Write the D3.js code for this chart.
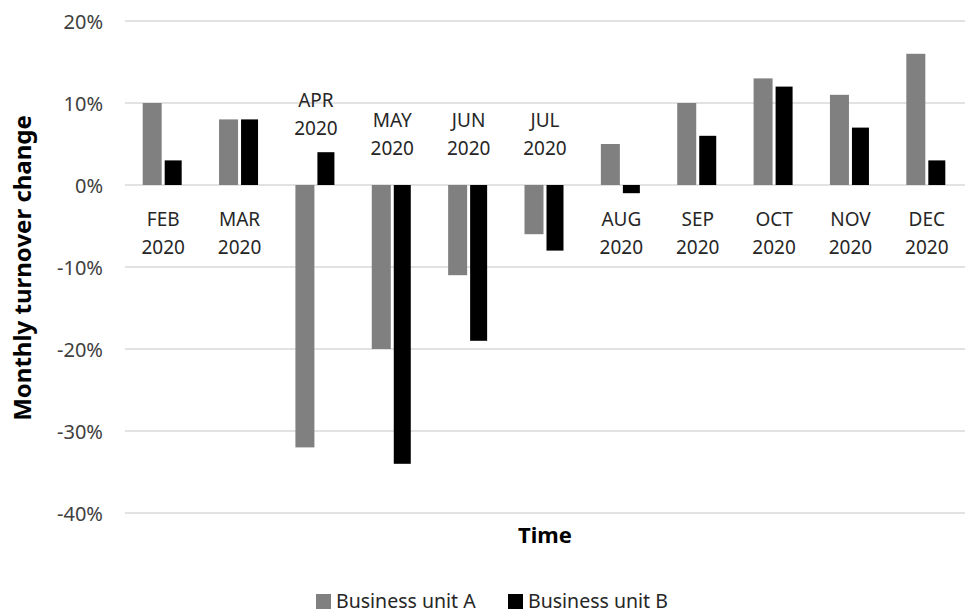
<html>
<head>
<meta charset="utf-8">
<style>
  body { margin: 0; background: #fff; }
  text { font-family: "Noto Sans", "Open Sans", sans-serif; }
</style>
</head>
<body>
<script src="https://d3js.org/d3.v7.min.js"></script>
<div id="chart"></div>
<script>
// data (percent)
var months = ["FEB", "MAR", "APR", "MAY", "JUN", "JUL", "AUG", "SEP", "OCT", "NOV", "DEC"];
var year = "2020";
var unitA = [10, 8, -32, -20, -11, -6, 5, 10, 13, 11, 16];
var unitB = [3, 8, 4, -34, -19, -8, -1, 6, 12, 7, 3];
var yTicks = [20, 10, 0, -10, -20, -30, -40];
var seriesNames = ["Business unit A", "Business unit B"];

var W = 967, H = 613;
var plotLeft = 125, plotRight = 965, plotTop = 21, plotBottom = 513;

var svg = d3.select("#chart").append("svg")
  .attr("width", W).attr("height", H);

var x = d3.scaleBand().domain(months).range([plotLeft, plotRight]);
var y = d3.scaleLinear().domain([-40, 20]).range([plotBottom, plotTop]);

var colors = ["#808080", "#000000"];

// gridlines
svg.append("g").selectAll("line")
  .data(yTicks).enter().append("line")
  .attr("x1", plotLeft).attr("x2", plotRight)
  .attr("y1", function(d) { return y(d); })
  .attr("y2", function(d) { return y(d); })
  .attr("stroke", "#d9d9d9").attr("stroke-width", 1.5);

// y tick labels
svg.append("g").selectAll("text")
  .data(yTicks).enter().append("text")
  .attr("x", 103).attr("y", function(d) { return y(d) + 7.5; })
  .attr("text-anchor", "end")
  .attr("font-size", 20).attr("fill", "#404040")
  .text(function(d) { return d + "%"; });

// bars
var barW = 19, gap = 3;
[unitA, unitB].forEach(function(vals, s) {
  svg.append("g").selectAll("rect")
    .data(vals).enter().append("rect")
    .attr("x", function(d, i) {
      var c = x(months[i]) + x.bandwidth() / 2;
      return s === 0 ? c - gap / 2 - barW : c + gap / 2;
    })
    .attr("y", function(d) { return y(Math.max(0, d)); })
    .attr("width", s === 0 ? barW : 17)
    .attr("height", function(d) { return Math.abs(y(d) - y(0)); })
    .attr("fill", colors[s]);
});

// category labels (baseline of first line): below the zero line,
// except Apr-Jul which sit above it
function labelY(i) {
  if (i === 2) return 107;
  if (i >= 3 && i <= 5) return 127;
  return 226;
}
var cat = svg.append("g").selectAll("text")
  .data(months).enter().append("text")
  .attr("text-anchor", "middle")
  .attr("font-size", 19).attr("fill", "#262626");
cat.append("tspan")
  .attr("x", function(d) { return x(d) + x.bandwidth() / 2; })
  .attr("y", function(d, i) { return labelY(i); })
  .text(function(d) { return d; });
cat.append("tspan")
  .attr("x", function(d) { return x(d) + x.bandwidth() / 2; })
  .attr("y", function(d, i) { return labelY(i) + 28; })
  .text(year);

// axis titles
svg.append("text")
  .attr("transform", "translate(31,268) rotate(-90)")
  .attr("text-anchor", "middle")
  .attr("font-size", 24).attr("font-weight", "bold").attr("fill", "#000")
  .text("Monthly turnover change");

svg.append("text")
  .attr("x", 545).attr("y", 543)
  .attr("text-anchor", "middle")
  .attr("font-size", 22).attr("font-weight", "bold").attr("fill", "#000")
  .text("Time");

// legend
var legX = [316, 508];
var leg = svg.append("g").selectAll("g")
  .data(seriesNames).enter().append("g")
  .attr("transform", function(d, i) { return "translate(" + legX[i] + ",594)"; });
leg.append("rect").attr("width", 15).attr("height", 15)
  .attr("fill", function(d, i) { return colors[i]; });
leg.append("text").attr("x", 20).attr("y", 14)
  .attr("font-size", 19.5).attr("fill", "#262626")
  .text(function(d) { return d; });
</script>
</body>
</html>
